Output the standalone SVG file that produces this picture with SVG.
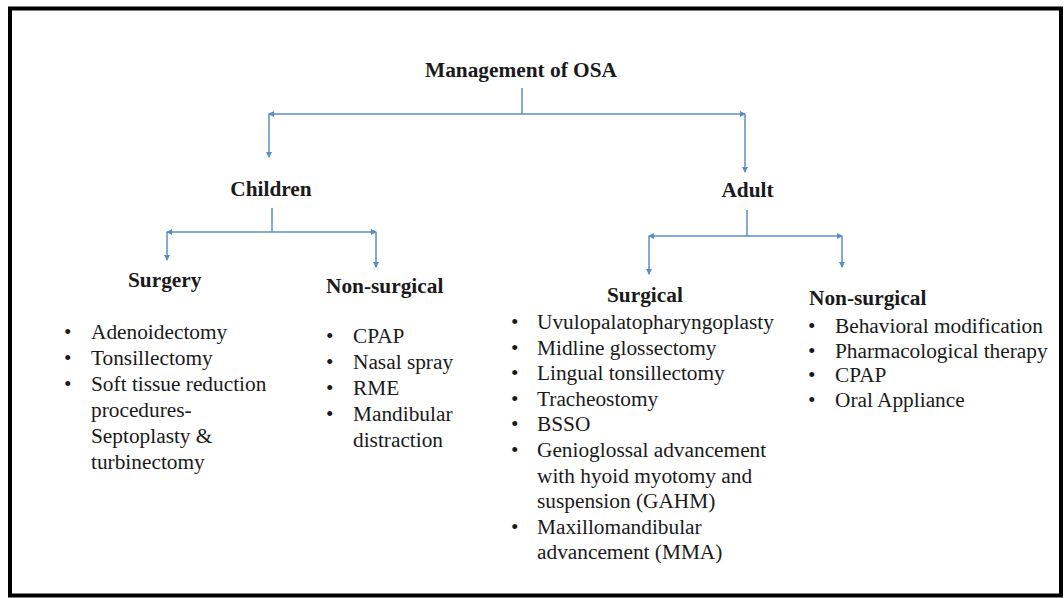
<svg xmlns="http://www.w3.org/2000/svg" width="1064" height="598" viewBox="0 0 1064 598">
  <style>
    text { font-family: "Liberation Serif", "Times New Roman", Times, "DejaVu Serif", serif; font-size: 21.33px; fill: #1a1a1a; }
    .h { font-weight: bold; }
    .c { text-anchor: middle; }
    .conn { fill: none; stroke: #5b8fbf; stroke-width: 1.5; }
  </style>
  <defs>
    <marker id="arr" viewBox="0 0 6 6" refX="5" refY="3" markerWidth="6" markerHeight="6" markerUnits="userSpaceOnUse" orient="auto">
      <path d="M0,0 L6,3 L0,6 z" fill="#5b8fbf"/>
    </marker>
  </defs>
  <rect x="0" y="0" width="1064" height="598" fill="#ffffff"/>
  <rect x="10" y="8.5" width="1051" height="587" fill="#ffffff" stroke="#000000" stroke-width="4"/>

  <g id="connectors">
    <path class="conn" d="M522,88 V114"/>
    <path class="conn" d="M522,114 H269" marker-end="url(#arr)"/>
    <path class="conn" d="M522,114 H745" marker-end="url(#arr)"/>
    <path class="conn" d="M269,114 V157" marker-end="url(#arr)"/>
    <path class="conn" d="M745,114 V172" marker-end="url(#arr)"/>

    <path class="conn" d="M272,208 V232"/>
    <path class="conn" d="M272,232 H167" marker-end="url(#arr)"/>
    <path class="conn" d="M272,232 H376" marker-end="url(#arr)"/>
    <path class="conn" d="M167,232 V260" marker-end="url(#arr)"/>
    <path class="conn" d="M376,232 V267" marker-end="url(#arr)"/>

    <path class="conn" d="M747,210 V236"/>
    <path class="conn" d="M747,236 H649" marker-end="url(#arr)"/>
    <path class="conn" d="M747,236 H842" marker-end="url(#arr)"/>
    <path class="conn" d="M649,236 V274" marker-end="url(#arr)"/>
    <path class="conn" d="M842,236 V267" marker-end="url(#arr)"/>
  </g>

  <g id="management">
    <text class="h c" x="521" y="77" font-family="Liberation Serif, serif">Management of OSA</text>
  </g>

  <g id="children">
    <text class="h c" x="271" y="196">Children</text>
  </g>

  <g id="adult">
    <text class="h c" x="747.5" y="197">Adult</text>
  </g>

  <g id="children-surgery">
    <text class="h" x="128" y="287">Surgery</text>
    <text x="64" y="339">•</text><text x="91" y="339">Adenoidectomy</text>
    <text x="64" y="365">•</text><text x="91" y="365">Tonsillectomy</text>
    <text x="64" y="391">•</text><text x="91" y="391">Soft tissue reduction</text>
    <text x="91" y="417">procedures-</text>
    <text x="91" y="443">Septoplasty &amp;</text>
    <text x="91" y="469">turbinectomy</text>
  </g>

  <g id="children-nonsurgical">
    <text class="h" x="326" y="293">Non-surgical</text>
    <text x="326" y="343">•</text><text x="353" y="343">CPAP</text>
    <text x="326" y="369">•</text><text x="353" y="369">Nasal spray</text>
    <text x="326" y="395">•</text><text x="353" y="395">RME</text>
    <text x="326" y="421">•</text><text x="353" y="421">Mandibular</text>
    <text x="353" y="447">distraction</text>
  </g>

  <g id="adult-surgical">
    <text class="h" x="607" y="302">Surgical</text>
    <text x="511" y="329">•</text><text x="537" y="329">Uvulopalatopharyngoplasty</text>
    <text x="511" y="354.6">•</text><text x="537" y="354.6">Midline glossectomy</text>
    <text x="511" y="380.2">•</text><text x="537" y="380.2">Lingual tonsillectomy</text>
    <text x="511" y="405.8">•</text><text x="537" y="405.8">Tracheostomy</text>
    <text x="511" y="431.4">•</text><text x="537" y="431.4">BSSO</text>
    <text x="511" y="457">•</text><text x="537" y="457">Genioglossal advancement</text>
    <text x="537" y="482.6">with hyoid myotomy and</text>
    <text x="537" y="508.2">suspension (GAHM)</text>
    <text x="511" y="533.8">•</text><text x="537" y="533.8">Maxillomandibular</text>
    <text x="537" y="559.4">advancement (MMA)</text>
  </g>

  <g id="adult-nonsurgical">
    <text class="h" x="809" y="305">Non-surgical</text>
    <text x="808" y="333">•</text><text x="835" y="333">Behavioral modification</text>
    <text x="808" y="357.5">•</text><text x="835" y="357.5">Pharmacological therapy</text>
    <text x="808" y="382">•</text><text x="835" y="382">CPAP</text>
    <text x="808" y="406.5">•</text><text x="835" y="406.5">Oral Appliance</text>
  </g>
</svg>
